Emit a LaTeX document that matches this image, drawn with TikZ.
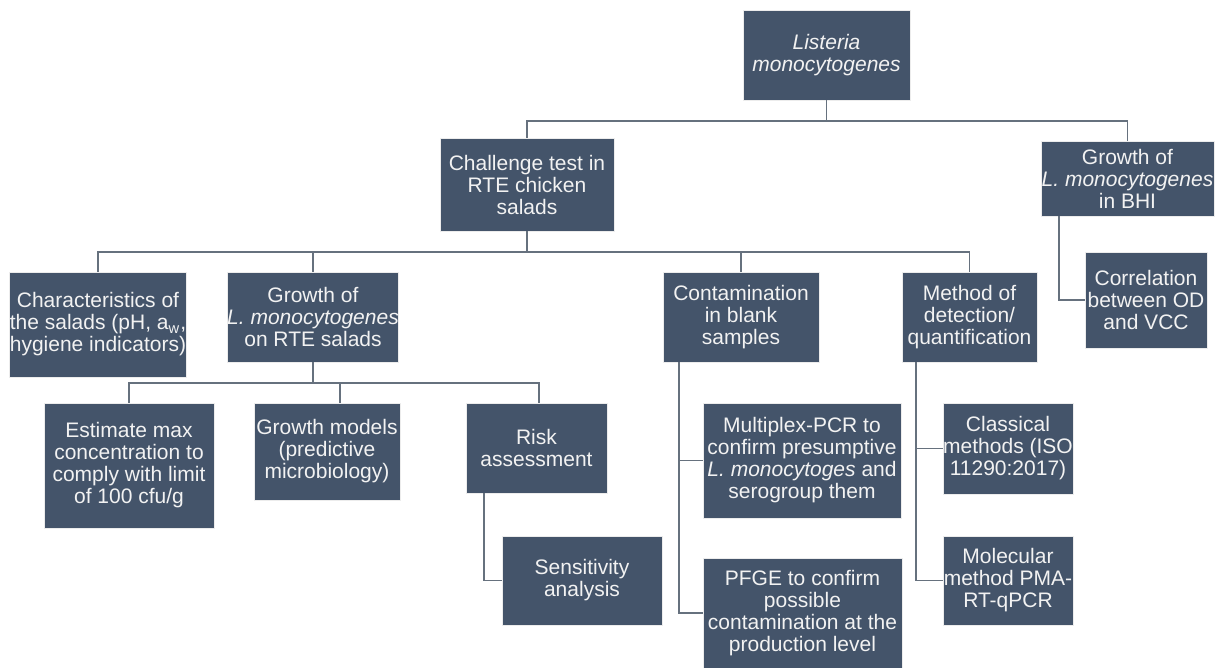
\documentclass[tikz,border=0pt]{standalone}
\usepackage{fontspec}
\setmainfont{Liberation Sans}
\usepackage{xcolor}
\usepackage{tikz}
\usetikzlibrary{positioning, calc}
\definecolor{box-slate}{HTML}{44546A}
\definecolor{line-gray}{HTML}{66717E}
\definecolor{box-text}{HTML}{F2F2F2}

\tikzset{
    box/.style={draw=white!85!gray, line width=0.4pt, fill=box-slate, text=box-text,
        align=center, inner sep=0pt, font=\fontsize{10.5}{11}\selectfont},
    conn/.style={draw=line-gray, line width=0.9pt}
}

\begin{document}
\begin{tikzpicture}[x=0.5pt, y=-0.5pt]
    \useasboundingbox (0,0) rectangle (1223,668);

    % Top level
    \node[box, minimum width=83.5pt, minimum height=45pt] (lm) at (826.5,55) {\itshape Listeria\\\itshape monocytogenes};
    \node[box, minimum width=87pt, minimum height=46.5pt] (ct) at (527,184.5) {Challenge test in\\RTE chicken\\salads};
    \node[box, minimum width=86.5pt, minimum height=37.5pt] (bhi) at (1127.5,178.5) {Growth of\\\textit{L. monocytogenes}\\in BHI};

    % Second level
    \node[box, minimum width=88pt, minimum height=52.5pt] (cs) at (98,324.5) {Characteristics of\\the salads (pH, a\textsubscript{w},\\hygiene indicators)};
    \node[box, minimum width=85pt, minimum height=45pt] (gr) at (313,317) {Growth of\\\textit{L. monocytogenes}\\on RTE salads};
    \node[box, minimum width=78pt, minimum height=45pt] (cb) at (741,317) {Contamination\\in blank\\samples};
    \node[box, minimum width=67.5pt, minimum height=45pt] (md) at (969.5,317) {Method of\\detection/\\quantification};
    \node[box, minimum width=61pt, minimum height=48pt] (co) at (1146,300) {Correlation\\between OD\\and VCC};

    % Third level
    \node[box, minimum width=85pt, minimum height=62.5pt] (em) at (129,465.5) {Estimate max\\concentration to\\comply with limit\\of 100 cfu/g};
    \node[box, minimum width=73pt, minimum height=48.5pt] (gm) at (327,451.5) {Growth models\\(predictive\\microbiology)};
    \node[box, minimum width=70.5pt, minimum height=45pt] (ra) at (536.5,448) {Risk\\assessment};
    \node[box, minimum width=80pt, minimum height=44.5pt] (sa) at (582,580.5) {Sensitivity\\analysis};
    \node[box, minimum width=99pt, minimum height=57.5pt] (mp) at (802,460.5) {Multiplex-PCR to\\confirm presumptive\\\textit{L. monocytoges} and\\serogroup them};
    \node[box, minimum width=99.5pt, minimum height=55pt] (pf) at (802.5,613) {PFGE to confirm\\possible\\contamination at the\\production level};
    \node[box, minimum width=65pt, minimum height=45.5pt] (cl) at (1008,448.5) {Classical\\methods (ISO\\11290:2017)};
    \node[box, minimum width=65pt, minimum height=44.5pt] (mo) at (1008,580.5) {Molecular\\method PMA-\\RT-qPCR};

    % Tree connectors
    \draw[conn] (lm.south) -- ++(0,21) -| (ct.north);
    \draw[conn] (lm.south) -- ++(0,21) -| (bhi.north);
    \foreach \child in {cs, gr, cb, md} {
        \draw[conn] (ct.south) -- ++(0,21) -| (\child.north);
    }
    \draw[conn] (gr.south) -- ++(0,21) -| (em.north);
    \draw[conn] (gr.south) -- ++(0,21) -| ([xshift=6.5pt]gm.north);
    \draw[conn] (gr.south) -- ++(0,21) -| ([xshift=1.25pt]ra.north);

    % Side connectors
    \draw[conn] ([xshift=9pt]ra.south west) |- (sa.west);
    \draw[conn] ([xshift=8pt]cb.south west) |- (mp.west);
    \draw[conn] ([xshift=8pt]cb.south west) |- (pf.west);
    \draw[conn] ([xshift=7pt]md.south west) |- (cl.west);
    \draw[conn] ([xshift=7pt]md.south west) |- (mo.west);
    \draw[conn] ([xshift=9pt]bhi.south west) |- (co.west);
\end{tikzpicture}
\end{document}
